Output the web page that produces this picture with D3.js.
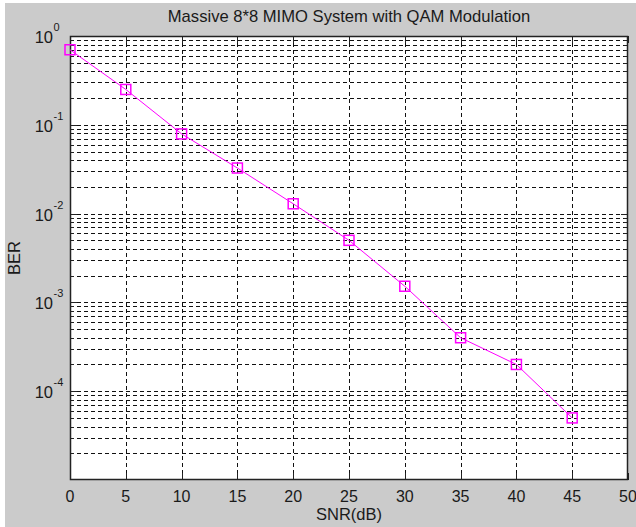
<!DOCTYPE html>
<html><head><meta charset="utf-8">
<script src="https://cdn.jsdelivr.net/npm/d3@7"></script>
<style>
html,body{margin:0;padding:0;background:#fff;}
svg{display:block;}
text{font-family:"Liberation Sans",Arial,sans-serif;fill:#1a1a1a;}
</style></head>
<body>
<script>
const snr = [0, 5, 10, 15, 20, 25, 30, 35, 40, 45];
const ber = [0.70, 0.25, 0.079, 0.0326, 0.0129, 0.0050, 0.00152, 0.00040, 0.00020, 0.000050];
const xTicks = [0, 5, 10, 15, 20, 25, 30, 35, 40, 45, 50];
const yExps = [0, -1, -2, -3, -4];
const title = "Massive 8*8 MIMO System with QAM Modulation";
const xLabel = "SNR(dB)";
const yLabel = "BER";

const W = 636, H = 527;
const L = 70, R = 628, T = 36, B = 480;
const svg = d3.select("body").append("svg").attr("width", W).attr("height", H);
svg.append("rect").attr("width", W).attr("height", H).attr("fill", "#fff");
svg.append("rect").attr("x", 5).attr("y", 3).attr("width", W - 5).attr("height", H - 3).attr("fill", "#cbcbcb");
svg.append("rect").attr("x", L).attr("y", T).attr("width", R - L).attr("height", B - T).attr("fill", "#fff");

const x = d3.scaleLinear().domain([0, 50]).range([L, R]);
const y = d3.scaleLog().domain([1e-5, 1]).range([B, T]);

// grid
const minor = [];
for (let e = -5; e < 0; e++) for (let m = 2; m <= 9; m++) minor.push(m * Math.pow(10, e));
const majors = [1e-4, 1e-3, 1e-2, 1e-1];
const g = svg.append("g").attr("stroke", "#111").attr("stroke-width", 1).attr("stroke-dasharray", "4,3");
g.selectAll("line.h").data(minor.concat(majors)).join("line")
  .attr("x1", L).attr("x2", R)
  .attr("y1", d => Math.round(y(d)) + 0.5).attr("y2", d => Math.round(y(d)) + 0.5);
g.selectAll("line.v").data(xTicks.slice(1, -1)).join("line")
  .attr("y1", T).attr("y2", B)
  .attr("x1", d => Math.round(x(d)) + 0.5).attr("x2", d => Math.round(x(d)) + 0.5);

// ticks
const tk = svg.append("g").attr("stroke", "#222").attr("stroke-width", 1);
xTicks.forEach(t => {
  const px = Math.round(x(t)) + 0.5;
  tk.append("line").attr("x1", px).attr("x2", px).attr("y1", B).attr("y2", B - 7);
  tk.append("line").attr("x1", px).attr("x2", px).attr("y1", T).attr("y2", T + 7);
});
minor.concat(majors).forEach(v => {
  const py = Math.round(y(v)) + 0.5;
  const len = majors.includes(v) ? 7 : 4;
  tk.append("line").attr("x1", L).attr("x2", L + len).attr("y1", py).attr("y2", py);
  tk.append("line").attr("x1", R).attr("x2", R - len).attr("y1", py).attr("y2", py);
});

// box
svg.append("rect").attr("x", L + 0.5).attr("y", T + 0.5).attr("width", R - L - 1).attr("height", B - T - 1)
  .attr("fill", "none").attr("stroke", "#222").attr("stroke-width", 1.5);

// x tick labels
svg.append("g").selectAll("text").data(xTicks).join("text")
  .attr("x", d => x(d)).attr("y", 501.5).attr("text-anchor", "middle")
  .attr("font-size", 16).text(d => d);

// y tick labels
yExps.forEach(e => {
  const py = y(Math.pow(10, e));
  svg.append("text").attr("x", 53).attr("y", py + 7).attr("font-size", 16.5).attr("text-anchor", "end").text("10");
  svg.append("text").attr("x", 53.5).attr("y", py - 5).attr("font-size", 11).text(e);
});

// title & labels
svg.append("text").attr("x", (L + R) / 2).attr("y", 22).attr("text-anchor", "middle").attr("font-size", 16.6).text(title);
svg.append("text").attr("x", (L + R) / 2).attr("y", 520).attr("text-anchor", "middle").attr("font-size", 16.5).text(xLabel);
svg.append("text").attr("transform", `translate(20,${(T + B) / 2}) rotate(-90)`).attr("text-anchor", "middle").attr("font-size", 16.5).text(yLabel);

// series
const line = d3.line().x((d, i) => x(snr[i])).y(d => y(d));
svg.append("path").datum(ber).attr("d", line).attr("fill", "none").attr("stroke", "#ff00ff").attr("stroke-width", 1);
svg.append("g").selectAll("rect").data(ber).join("rect")
  .attr("x", (d, i) => x(snr[i]) - 5).attr("y", d => y(d) - 5)
  .attr("width", 10).attr("height", 10)
  .attr("fill", "none").attr("stroke", "#ff00ff").attr("stroke-width", 1.5);
</script>
</body></html>
